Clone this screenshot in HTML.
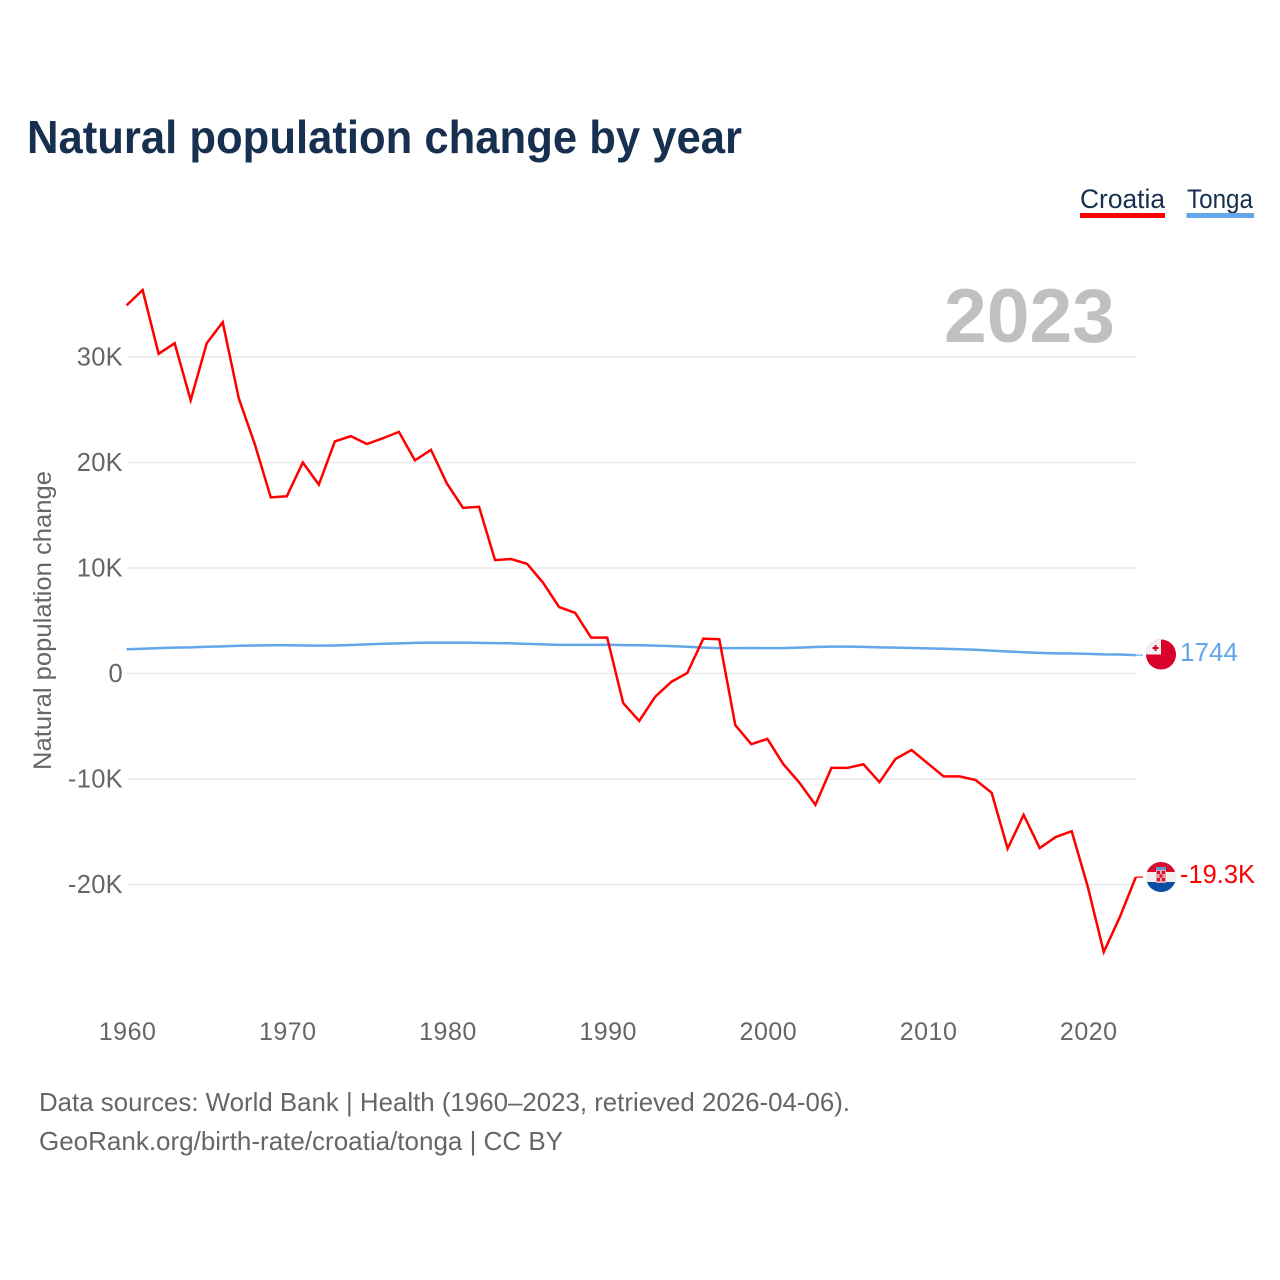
<!DOCTYPE html>
<html lang="en">
<head>
<meta charset="utf-8">
<title>Natural population change by year</title>
<style>
html,body{margin:0;padding:0;background:#fff;}
svg{display:block;font-family:"Liberation Sans",sans-serif;}
</style>
</head>
<body>
<svg id="chart" xmlns="http://www.w3.org/2000/svg" width="1280" height="1280" viewBox="0 0 1280 1280">
<defs>
<clipPath id="tonga-clip"><circle cx="1161" cy="654.5" r="15"/></clipPath>
<clipPath id="croatia-clip"><circle cx="1161" cy="877" r="15"/></clipPath>
</defs>
<rect width="1280" height="1280" fill="#fff"/>
<text x="27" y="153" font-size="46" font-weight="700" fill="#17304f" textLength="715" lengthAdjust="spacingAndGlyphs">Natural population change by year</text>
<g>
<text x="1080" y="208" font-size="27" fill="#17304f" textLength="85" lengthAdjust="spacingAndGlyphs">Croatia</text>
<rect x="1080" y="213" width="85" height="5" fill="#ff0000"/>
</g>
<g>
<text x="1187" y="208" font-size="27" fill="#17304f" textLength="66" lengthAdjust="spacingAndGlyphs">Tonga</text>
<rect x="1186.5" y="213" width="67.5" height="5" fill="#63a6ea"/>
</g>
<text x="944" y="342" font-size="76" font-weight="700" fill="#c0c0c0" textLength="171" lengthAdjust="spacingAndGlyphs">2023</text>
<g id="grid"></g>
<g id="yticks"></g>
<g id="xticks"></g>
<text transform="translate(51,770) rotate(-90)" font-size="25" fill="#666" textLength="299" lengthAdjust="spacingAndGlyphs">Natural population change</text>
<g id="series"></g>
<g clip-path="url(#tonga-clip)">
<rect x="1146" y="639" width="30" height="31" fill="#d9002c"/>
<rect x="1146" y="639" width="15" height="15.5" fill="#f2f0f0"/>
<rect x="1154.5" y="645" width="2" height="6" fill="#d9002c"/>
<rect x="1152.5" y="647" width="6" height="2" fill="#d9002c"/>
</g>
<g clip-path="url(#croatia-clip)">
<rect x="1146" y="862" width="30" height="10" fill="#d80c30"/>
<rect x="1146" y="872" width="30" height="10" fill="#efefef"/>
<rect x="1146" y="882" width="30" height="10" fill="#0b4ea2"/>
<rect x="1156" y="867" width="10" height="3" fill="#5b9bd5"/>
<rect x="1156" y="870" width="10" height="13" fill="#e8a0a8"/>
<rect x="1157" y="871" width="3" height="3" fill="#d80c30"/>
<rect x="1162" y="871" width="3" height="3" fill="#d80c30"/>
<rect x="1159.5" y="874.5" width="3" height="3" fill="#d80c30"/>
<rect x="1157" y="878" width="3" height="3" fill="#d80c30"/>
<rect x="1162" y="878" width="3" height="3" fill="#d80c30"/>
</g>
<text x="1180" y="661" font-size="26" fill="#63a6ea" textLength="58" lengthAdjust="spacingAndGlyphs">1744</text>
<text x="1180" y="883" font-size="26" fill="#ff0000" textLength="75" lengthAdjust="spacingAndGlyphs">-19.3K</text>
<text x="39" y="1111" font-size="26" fill="#666" textLength="811" lengthAdjust="spacingAndGlyphs">Data sources: World Bank | Health (1960–2023, retrieved 2026-04-06).</text>
<text x="39" y="1150" font-size="26" fill="#666" textLength="524" lengthAdjust="spacingAndGlyphs">GeoRank.org/birth-rate/croatia/tonga | CC BY</text>
</svg>
<script>
var years = [1960,1961,1962,1963,1964,1965,1966,1967,1968,1969,1970,1971,1972,1973,1974,1975,1976,1977,1978,1979,1980,1981,1982,1983,1984,1985,1986,1987,1988,1989,1990,1991,1992,1993,1994,1995,1996,1997,1998,1999,2000,2001,2002,2003,2004,2005,2006,2007,2008,2009,2010,2011,2012,2013,2014,2015,2016,2017,2018,2019,2020,2021,2022,2023];
var croatia = [34900,36350,30300,31300,25900,31300,33300,26100,21750,16700,16800,20000,17900,22000,22500,21750,22300,22900,20200,21200,18000,15700,15800,10750,10850,10400,8600,6300,5750,3400,3400,-2800,-4500,-2200,-800,50,3300,3250,-4900,-6700,-6200,-8600,-10350,-12450,-8950,-8950,-8600,-10300,-8100,-7250,-8500,-9750,-9750,-10100,-11300,-16600,-13400,-16550,-15500,-14950,-20200,-26400,-23100,-19300];
var tonga = [2300,2350,2400,2450,2480,2530,2570,2630,2650,2680,2680,2650,2640,2660,2700,2760,2820,2860,2900,2930,2930,2930,2900,2880,2860,2810,2760,2710,2710,2710,2720,2690,2680,2640,2600,2530,2450,2400,2400,2420,2400,2410,2450,2510,2550,2550,2520,2480,2450,2420,2380,2340,2300,2250,2170,2090,2020,1950,1910,1890,1860,1810,1800,1744];
var yTickValues = [30000,20000,10000,0,-10000,-20000];
var yTickLabels = ['30K','20K','10K','0','-10K','-20K'];
var xTickValues = [1960,1970,1980,1990,2000,2010,2020];
var xTickLabels = ['1960','1970','1980','1990','2000','2010','2020'];

var NS = 'http://www.w3.org/2000/svg';
function xScale(year){ return 126.6 + (year - 1960) * (1135.8 - 126.6) / 63; }
function yScale(v){ return 673.5 - v * 105.5 / 10000; }
function make(tag, attrs, parent, text){
  var el = document.createElementNS(NS, tag);
  for (var k in attrs) el.setAttribute(k, attrs[k]);
  if (text !== undefined) el.textContent = text;
  parent.appendChild(el);
  return el;
}
var grid = document.getElementById('grid');
var yticks = document.getElementById('yticks');
var xticks = document.getElementById('xticks');
var series = document.getElementById('series');

yTickValues.forEach(function(v, i){
  var line = make('line', {x1:127, x2:1136, y1:yScale(v), y2:yScale(v), stroke:'#e9e9e9', 'stroke-width':1.5}, grid);
  
  
  var label = make('text', {x:123, y:yScale(v)+8.5, 'text-anchor':'end', 'font-size':25.5, 'letter-spacing':'0.3', fill:'#666'}, yticks, yTickLabels[i]);
  
  
});
xTickValues.forEach(function(v, i){
  var label = make('text', {x:xScale(v)+1, y:1040, 'text-anchor':'middle', 'font-size':25, 'letter-spacing':'0.5', fill:'#666'}, xticks, xTickLabels[i]);
  
  
});
function pathFor(values){
  return values.map(function(v, i){
    return (i ? 'L' : 'M') + xScale(years[i]).toFixed(2) + ' ' + yScale(v).toFixed(2);
  }).join(' ');
}
var tongaLine = make('path', {d:pathFor(tonga), fill:'none', stroke:'#63a6ea', 'stroke-width':2.5, 'stroke-linejoin':'round'}, series);


var croatiaLine = make('path', {d:pathFor(croatia), fill:'none', stroke:'#ff0000', 'stroke-width':2.5, 'stroke-linejoin':'miter'}, series);


var lastYear = years[years.length - 1];
var tongaConnector = make('line', {x1:xScale(lastYear), x2:1143, y1:yScale(tonga[tonga.length-1]), y2:yScale(tonga[tonga.length-1]), stroke:'#63a6ea', 'stroke-width':1.2}, series);


var croatiaConnector = make('line', {x1:xScale(lastYear), x2:1143, y1:yScale(croatia[croatia.length-1]), y2:yScale(croatia[croatia.length-1]), stroke:'#ff0000', 'stroke-width':1.2}, series);


</script>
</body>
</html>
